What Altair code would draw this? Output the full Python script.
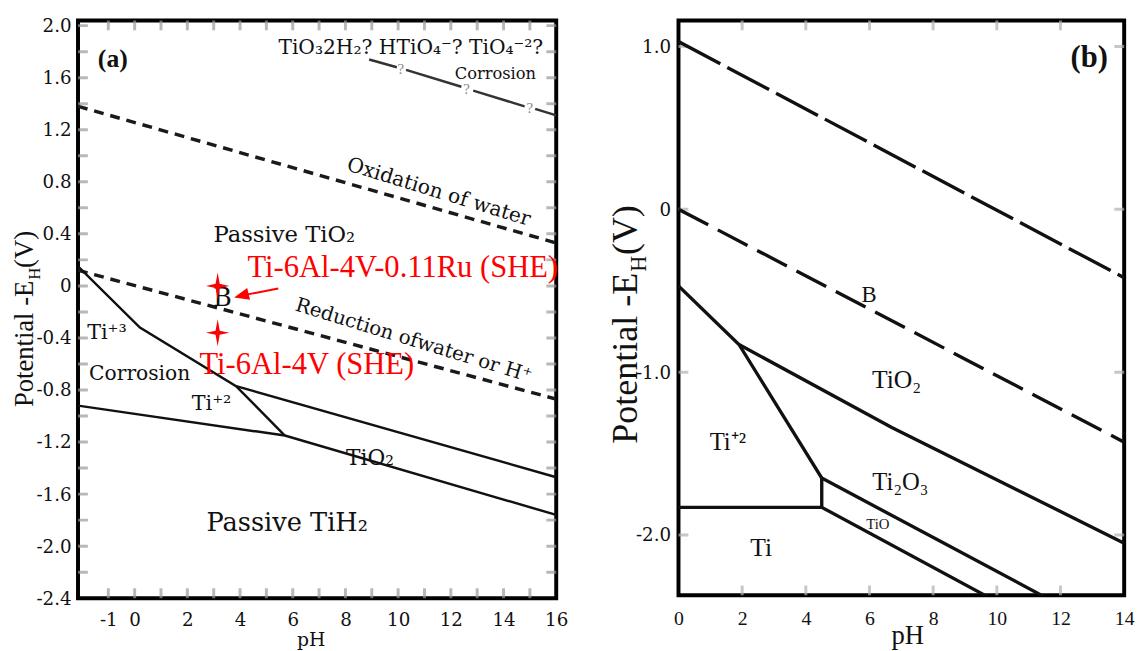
import altair as alt
import pandas as pd

SERIF = "Liberation Serif"
WIDE = "DejaVu Serif"

# ---------------- Panel (a) values ----------------
a_xdom = [-2.15, 16.0]
a_ydom = [-2.4, 2.04]
a_xlabels = [-1, 0, 2, 4, 6, 8, 10, 12, 14, 16]
a_ylabels = [2.0, 1.6, 1.2, 0.8, 0.4, 0, -0.4, -0.8, -1.2, -1.6, -2.0, -2.4]
a_xminor = [-1, 0, 1, 2, 3, 4, 5, 6, 7, 8, 9, 10, 11, 12, 13, 14, 15]
a_yminor = [2.0, 1.8, 1.6, 1.4, 1.2, 1.0, 0.8, 0.6, 0.4, 0.2, 0.0, -0.2, -0.4, -0.6,
            -0.8, -1.0, -1.2, -1.4, -1.6, -1.8, -2.0, -2.2]

a_ox_ph = [-2.15, 16.0]
a_ox_E = [1.38, 0.33]
a_red_ph = [-2.15, 16.0]
a_red_E = [0.12, -0.87]
a_q_seg = [1, 1, 2, 2, 3, 3, 4, 4]
a_q_ph = [8.9, 9.95, 10.3, 12.4, 12.85, 14.8, 15.2, 16.0]
a_q_E = [1.74, 1.68, 1.66, 1.53, 1.50, 1.38, 1.36, 1.31]
a_qmark_ph = [10.1, 12.6, 15.0]
a_qmark_E = [1.67, 1.51, 1.37]
a_ti3_ph = [-2.15, 0.2, 3.85, 5.7]
a_ti3_E = [0.15, -0.32, -0.77, -1.15]
a_tio2_ph = [3.85, 16.0]
a_tio2_E = [-0.77, -1.47]
a_tih2_ph = [-2.15, 5.7, 16.0]
a_tih2_E = [-0.92, -1.15, -1.76]
a_star_ph = [3.15, 3.15]
a_star_E = [0.0, -0.36]
a_arrow_ph = [5.45, 4.3]
a_arrow_E = [-0.02, -0.065]
a_head_ph = [4.05]
a_head_E = [-0.075]

# ---------------- Panel (b) values ----------------
b_xdom = [0, 14]
b_ydom = [-2.37, 1.16]
b_xlabels = [0, 2, 4, 6, 8, 10, 12, 14]
b_ylabels = [1.0, 0, -1.0, -2.0]
b_xminor = [2, 4, 6, 8, 10, 12]
b_yminor = [1.0, 0, -1.0, -2.0]

b_top_ph = [0, 14]
b_top_E = [1.03, -0.42]
b_B_ph = [0, 14]
b_B_E = [0.0, -1.43]
b_l1_ph = [0, 1.9, 4.5, 4.5]
b_l1_E = [-0.47, -0.83, -1.65, -1.83]
b_l2_ph = [1.9, 6.7, 14]
b_l2_E = [-0.83, -1.34, -2.05]
b_l3_ph = [0, 4.5, 9.72]
b_l3_E = [-1.83, -1.83, -2.38]
b_l4_ph = [4.5, 11.5]
b_l4_E = [-1.65, -2.38]

STAR = "M0,-1.1L0.17,-0.17L0.95,0L0.17,0.17L0,1.1L-0.17,0.17L-0.95,0L-0.17,-0.17Z"
HEAD = "M-1,0L1,-0.8L1,0.8Z"

SIGNED_1F = ("datum.value == 0 ? '0' : (datum.value < 0 ? '-' + format(-datum.value, '.1f')"
             " : format(datum.value, '.1f'))")
SIGNED_D = "datum.value < 0 ? '-' + format(-datum.value, 'd') : format(datum.value, 'd')"


def make_panel(xdom, ydom, xlabels, ylabels, xfont, xsize, xpad, yfont, ysize, ypad,
               title_size, title_font, title_x, title_y):
    xs = alt.Scale(domain=xdom, nice=False, zero=False)
    ys = alt.Scale(domain=ydom, nice=False, zero=False)
    ax_x = alt.Axis(values=xlabels, title="pH", grid=False, ticks=False, domain=False,
                    labelFont=xfont, labelFontSize=xsize, labelColor="#111",
                    labelPadding=xpad, labelFlush=False, labelOverlap=False,
                    labelExpr=SIGNED_D,
                    titleFont=title_font, titleFontSize=title_size, titleFontWeight="normal",
                    titleColor="#111", titleX=title_x, titleY=title_y,
                    titleBaseline="middle", titleAlign="center")
    ax_y = alt.Axis(values=ylabels, title=None, grid=False, ticks=False, domain=False,
                    labelFont=yfont, labelFontSize=ysize, labelColor="#111",
                    labelPadding=ypad, labelFlush=False, labelOverlap=False,
                    labelExpr=SIGNED_1F)
    X = lambda f: alt.X(f, type="quantitative", scale=xs, axis=ax_x)
    Y = lambda f: alt.Y(f, type="quantitative", scale=ys, axis=ax_y)
    return X, Y


def line(X, Y, ph, E, color="#111", width=2.5, dash=None, seg=None):
    df = pd.DataFrame({"x": ph, "y": E, "i": list(range(len(ph)))})
    kw = dict(color=color, strokeWidth=width, clip=True)
    if dash:
        kw["strokeDash"] = dash
    enc = dict(x=X("x"), y=Y("y"), order=alt.Order("i:Q"))
    if seg is not None:
        df["s"] = seg
        enc["detail"] = "s:N"
    return alt.Chart(df).mark_line(**kw).encode(**enc)


def label(X, Y, text, x, y, size, font=SERIF, color="#111", angle=0, align="center",
          weight="normal", baseline="middle"):
    df = pd.DataFrame({"x": [x], "y": [y], "t": [text]})
    return alt.Chart(df).mark_text(font=font, fontSize=size, color=color, angle=angle,
                                   align=align, fontWeight=weight, baseline=baseline).encode(
        x=X("x"), y=Y("y"), text="t:N")


def free_text(text, px, py, size, angle=270, align="right", baseline="alphabetic"):
    df = pd.DataFrame({"t": [text]})
    return alt.Chart(df).mark_text(font=SERIF, fontSize=size, color="#111", angle=angle,
                                   align=align, baseline=baseline).encode(
        x=alt.value(px), y=alt.value(py), text="t:N")


def ticks(X, Y, xdom, ydom, xminor, yminor, color, length):
    dfy = pd.DataFrame({"y": yminor * 2,
                        "x": [xdom[0]] * len(yminor) + [xdom[1]] * len(yminor)})
    dfx = pd.DataFrame({"x": xminor * 2,
                        "y": [ydom[0]] * len(xminor) + [ydom[1]] * len(xminor)})
    ty = alt.Chart(dfy).mark_tick(orient="horizontal", size=length, thickness=3,
                                  color=color, clip=True).encode(x=X("x"), y=Y("y"))
    tx = alt.Chart(dfx).mark_tick(orient="vertical", size=length, thickness=3,
                                  color=color, clip=True).encode(x=X("x"), y=Y("y"))
    return [ty, tx]


A_W, A_H = 485, 586
B_W, B_H = 452, 583

# ---------------- build panel (a) ----------------
X, Y = make_panel(a_xdom, a_ydom, a_xlabels, a_ylabels, WIDE, 18.5, 13, WIDE, 18.5, 7,
                  19, WIDE, 236, 42)
la = []
la += ticks(X, Y, a_xdom, a_ydom, a_xminor, a_yminor, "#9a9a9a", 20)
la.append(line(X, Y, a_ox_ph, a_ox_E, color="#1a1a1a", width=3.5, dash=[10, 7]))
la.append(line(X, Y, a_red_ph, a_red_E, color="#1a1a1a", width=3.5, dash=[10, 7]))
la.append(line(X, Y, a_q_ph, a_q_E, color="#333", width=2.5, seg=a_q_seg))
la.append(alt.Chart(pd.DataFrame({"x": a_qmark_ph, "y": a_qmark_E, "t": ["?"] * 3}))
          .mark_text(font=SERIF, fontSize=15, color="#888", baseline="middle")
          .encode(x=X("x"), y=Y("y"), text="t:N"))
la.append(line(X, Y, a_ti3_ph, a_ti3_E, width=2.5))
la.append(line(X, Y, a_tio2_ph, a_tio2_E, width=2.5))
la.append(line(X, Y, a_tih2_ph, a_tih2_E, width=2.5))
# region labels
la.append(label(X, Y, "(a)", -0.83, 1.74, 26, weight="bold"))
la.append(label(X, Y, "TiO₃2H₂? HTiO₄⁻? TiO₄⁻²?", 10.48, 1.825, 20.5, font=WIDE))
la.append(label(X, Y, "Corrosion", 13.69, 1.63, 16.5, font=WIDE))
la.append(label(X, Y, "Oxidation of water", 11.54, 0.72, 20.5, font=WIDE, angle=17))
la.append(label(X, Y, "Passive TiO₂", 5.68, 0.39, 23, font=WIDE))
la.append(label(X, Y, "B", 3.33, -0.095, 26, font=WIDE))
la.append(label(X, Y, "Reduction ofwater or H⁺", 10.59, -0.42, 20, font=WIDE, angle=17))
la.append(label(X, Y, "Ti⁺³", -1.05, -0.36, 21, font=WIDE))
la.append(label(X, Y, "Corrosion", 0.19, -0.68, 20.5, font=WIDE))
la.append(label(X, Y, "Ti⁺²", 2.92, -0.91, 21, font=WIDE))
la.append(label(X, Y, "TiO₂", 8.93, -1.32, 22, font=WIDE))
la.append(label(X, Y, "Passive TiH₂", 5.79, -1.82, 26, font=WIDE))
# red markers
la.append(alt.Chart(pd.DataFrame({"x": a_star_ph, "y": a_star_E}))
          .mark_point(shape=STAR, size=620, filled=True, color="#ff0000", opacity=1)
          .encode(x=X("x"), y=Y("y")))
la.append(line(X, Y, a_arrow_ph, a_arrow_E, color="#ff0000", width=2))
la.append(alt.Chart(pd.DataFrame({"x": a_head_ph, "y": a_head_E}))
          .mark_point(shape=HEAD, size=230, filled=True, color="#ff0000", opacity=1, angle=346)
          .encode(x=X("x"), y=Y("y")))
la.append(label(X, Y, "Ti-6Al-4V-0.11Ru (SHE)", 4.28, 0.14, 31, color="#ff0000", align="left"))
la.append(label(X, Y, "Ti-6Al-4V (SHE)", 2.46, -0.61, 31, color="#ff0000", align="left"))
# y title with subscript
la.append(free_text("Potential -E", -46, 264, 27, align="right"))
la.append(free_text("H", -39, 263, 17, align="left"))
la.append(free_text("(V)", -46, 251, 27, align="left"))
panel_a = alt.layer(*la).properties(width=A_W, height=A_H)

# ---------------- build panel (b) ----------------
X, Y = make_panel(b_xdom, b_ydom, b_xlabels, b_ylabels, SERIF, 20, 14, WIDE, 18.5, 8,
                  27, SERIF, 232, 41)
lb = []
lb += ticks(X, Y, b_xdom, b_ydom, b_xminor, b_yminor, "#b0b0b0", 20)
lb.append(line(X, Y, b_top_ph, b_top_E, width=3.4, dash=[48, 8]))
lb.append(line(X, Y, b_B_ph, b_B_E, width=3.4, dash=[34, 11]))
lb.append(line(X, Y, b_l1_ph, b_l1_E, width=3.4))
lb.append(line(X, Y, b_l2_ph, b_l2_E, width=3.4))
lb.append(line(X, Y, b_l3_ph, b_l3_E, width=3.4))
lb.append(line(X, Y, b_l4_ph, b_l4_E, width=3.4))
lb.append(label(X, Y, "(b)", 12.9, 0.93, 31, weight="bold"))
lb.append(label(X, Y, "B", 5.99, -0.525, 23))
lb.append(label(X, Y, "TiO₂", 6.85, -1.05, 26))
lb.append(label(X, Y, "Ti⁺²", 1.55, -1.43, 25))
lb.append(label(X, Y, "Ti₂O₃", 6.97, -1.675, 25))
lb.append(label(X, Y, "TiO", 6.26, -1.93, 15))
lb.append(label(X, Y, "Ti", 2.6, -2.08, 26))
lb.append(free_text("Potential -E", -42, 256, 36.5, align="right"))
lb.append(free_text("H", -33, 255, 22.5, align="left"))
lb.append(free_text("(V)", -42, 238, 36.5, align="left"))
panel_b = alt.layer(*lb).properties(width=B_W, height=B_H)

chart = alt.hconcat(panel_a, panel_b, spacing=124, bounds="flush").properties(
    padding={"left": 1, "top": 2, "right": 0, "bottom": 0}
).configure(background="white").configure_view(stroke="black", strokeWidth=4)

chart.save("out.html", embed_options={"renderer": "svg", "actions": False})
